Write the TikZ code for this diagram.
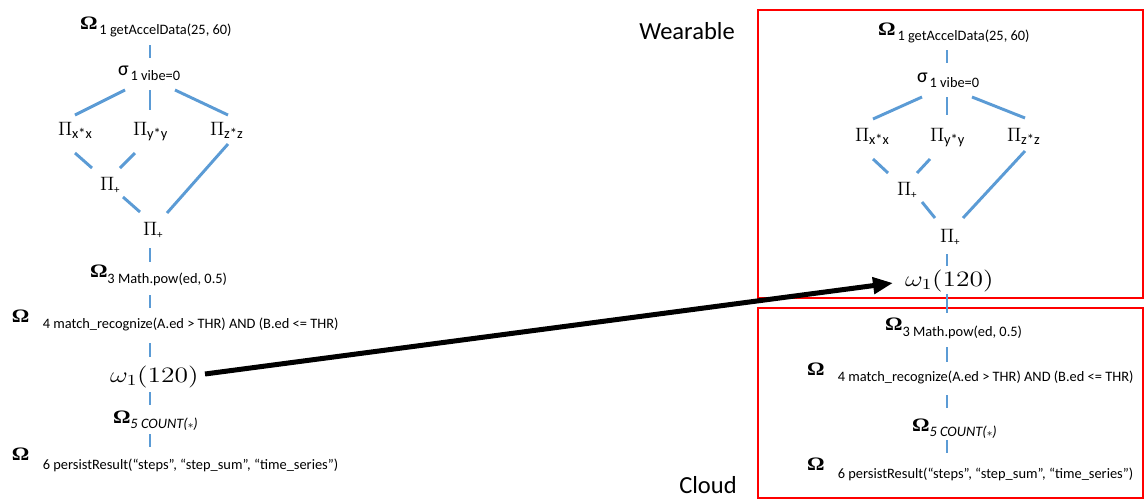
\RequirePackage{fix-cm}
\documentclass[tikz,border=0pt]{standalone}
\usepackage{fontspec}
\setmainfont{Carlito}
\newfontfamily\omegafont{Liberation Serif}[BoldFont={* Bold}]
\usetikzlibrary{calc,arrows.meta}

\definecolor{edgeblue}{HTML}{5B9BD5}
\definecolor{boxred}{HTML}{FF0000}

% text sizes (1 unit of the picture = 0.75pt)
\newcommand\subsz{\fontsize{10.8pt}{12pt}\selectfont}
\newcommand\plussz{\fontsize{8.25pt}{9pt}\selectfont}
% operator labels: gap, drop of the subscript text, subscript text
\newcommand\OmegaOp[3]{\scalebox{1.15}[1]{\omegafont\bfseries\fontsize{14.25pt}{15pt}\selectfont Ω}\kern#1\raisebox{-#2}{\subsz #3}}
\newcommand\PiOp[2]{{\fontsize{14.5pt}{15pt}\selectfont$\Pi$}\raisebox{-#1}{#2}}
\newcommand\SigmaOp{{\fontsize{15pt}{16pt}\selectfont σ}\kern1.5pt\raisebox{-3.75pt}{\subsz 1 vibe=0}}
\newcommand\WindowOp{\scalebox{1.25}[1]{\fontsize{16.5pt}{17pt}\selectfont$\omega_1(120)$}}
\newcommand\StarSym{{\fontsize{8pt}{8pt}\selectfont$\ast$}}

\tikzset{
  op/.style={anchor=base west, inner sep=0pt, outer sep=0pt},
  edge/.style={draw=edgeblue, line width=2.2pt},
  zone/.style={draw=boxred, line width=1.5pt},
  zonelabel/.style={inner sep=0pt, font=\fontsize{18.4pt}{20pt}\selectfont},
  handoff/.style={line width=3.75pt, -{Triangle[length=15pt, width=12pt]}}
}

\begin{document}
\begin{tikzpicture}[x=0.75pt, y=-0.75pt]
\useasboundingbox (0,0) rectangle (1144,500);

% ---------------- full query plan ----------------
\node[op] (o1L) at (80,29)  {\OmegaOp{1.5pt}{3.75pt}{1 getAccelData(25, 60)}};
\node[op] (sgL) at (118,75) {\SigmaOp};
\node[op] (pxL) at (58,135)  {\PiOp{2.25pt}{\subsz x*x}};
\node[op] (pyL) at (133,135) {\PiOp{2.25pt}{\subsz y*y}};
\node[op] (pzL) at (210,135) {\PiOp{2.25pt}{\subsz z*z}};
\node[op] (p1L) at (100,190) {\PiOp{2.25pt}{\plussz +}};
\node[op] (p2L) at (143,235) {\PiOp{2.25pt}{\plussz +}};
\node[op] (o3L) at (90,277)  {\OmegaOp{0pt}{4.5pt}{3 Math.pow(ed, 0.5)}};
\node[op] (o4L) at (12,322)  {\OmegaOp{10pt}{4.5pt}{4 match\_recognize(A.ed > THR) AND (B.ed <= THR)}};
\node[op] (wL)  at (110,382) {\WindowOp};
\node[op] (o5L) at (113,423) {\OmegaOp{0pt}{3.75pt}{\itshape 5 COUNT(\StarSym)}};
\node[op] (o6L) at (12,460)  {\OmegaOp{10pt}{6.75pt}{6 persistResult(“steps”, “step\_sum”, “time\_series”)}};

\draw[edge] ($(o1L.base west)+(70,16)$) -- ($(sgL.base west)+(32,-17)$);
\draw[edge] ($(sgL.base west)+(7,15)$)  -- ($(pxL.base west)+(17,-20)$);
\draw[edge] ($(sgL.base west)+(32,15)$) -- ($(pyL.base west)+(17,-25)$);
\draw[edge] ($(sgL.base west)+(57,15)$) -- ($(pzL.base west)+(18,-20)$);
\draw[edge] ($(pxL.base west)+(17,18)$) -- ($(p1L.base west)+(-8,-22)$);
\draw[edge] ($(pyL.base west)+(2,18)$)  -- ($(p1L.base west)+(20,-22)$);
\draw[edge] ($(pzL.base west)+(18,9)$)  -- ($(p2L.base west)+(24,-22)$);
\draw[edge] ($(p1L.base west)+(23,7)$)  -- ($(p2L.base west)+(-3,-23)$);
\draw[edge] ($(p2L.base west)+(7,13)$)  -- ($(o3L.base west)+(60,-15)$);
\draw[edge] ($(o3L.base west)+(60,18)$) -- ($(o4L.base west)+(138,-14)$);
\draw[edge] ($(o4L.base west)+(138,21)$) -- ($(wL.base west)+(40,-25)$);
\draw[edge] ($(wL.base west)+(40,10)$)  -- ($(o5L.base west)+(37,-18)$);
\draw[edge] ($(o5L.base west)+(37,11)$) -- ($(o6L.base west)+(138,-13)$);

% ---------------- partitioned plan ----------------
\draw[zone] (758,10) rectangle (1143,298);
\draw[zone] (758,308) rectangle (1143,498);
\node[zonelabel] (wear)  at (687,31)  {Wearable};
\node[zonelabel] (cloud) at (708,485) {Cloud};

\node[op] (o1R) at (878,35)  {\OmegaOp{1.5pt}{3.75pt}{1 getAccelData(25, 60)}};
\node[op] (sgR) at (917,82)  {\SigmaOp};
\node[op] (pxR) at (855,141) {\PiOp{2.25pt}{\subsz x*x}};
\node[op] (pyR) at (930,141) {\PiOp{2.25pt}{\subsz y*y}};
\node[op] (pzR) at (1007,141) {\PiOp{2.25pt}{\subsz z*z}};
\node[op] (p1R) at (897,195) {\PiOp{2.25pt}{\plussz +}};
\node[op] (p2R) at (940,242) {\PiOp{2.25pt}{\plussz +}};
\node[op] (wR)  at (905,286) {\WindowOp};
\node[op] (o3R) at (885,330) {\OmegaOp{0pt}{4.5pt}{3 Math.pow(ed, 0.5)}};
\node[op] (o4R) at (807,375) {\OmegaOp{10pt}{4.5pt}{4 match\_recognize(A.ed > THR) AND (B.ed <= THR)}};
\node[op] (o5R) at (912,431) {\OmegaOp{0pt}{3.75pt}{\itshape 5 COUNT(\StarSym)}};
\node[op] (o6R) at (807,470) {\OmegaOp{10pt}{6pt}{6 persistResult(“steps”, “step\_sum”, “time\_series”)}};

\draw[edge] ($(o1R.base west)+(69,15)$) -- ($(sgR.base west)+(30,-19)$);
\draw[edge] ($(sgR.base west)+(5,15)$)  -- ($(pxR.base west)+(18,-22)$);
\draw[edge] ($(sgR.base west)+(30,15)$) -- ($(pyR.base west)+(17,-26)$);
\draw[edge] ($(sgR.base west)+(55,15)$) -- ($(pzR.base west)+(18,-23)$);
\draw[edge] ($(pxR.base west)+(18,18)$) -- ($(p1R.base west)+(-9,-22)$);
\draw[edge] ($(pyR.base west)+(0,18)$)  -- ($(p1R.base west)+(20,-22)$);
\draw[edge] ($(pzR.base west)+(18,10)$) -- ($(p2R.base west)+(23,-24)$);
\draw[edge] ($(p1R.base west)+(25,7)$)  -- ($(p2R.base west)+(-5,-24)$);
\draw[edge] ($(p2R.base west)+(7,12)$)  -- ($(wR.base west)+(42,-20)$);
\draw[edge] ($(wR.base west)+(42,8)$)   -- ($(o3R.base west)+(62,-17)$);
\draw[edge] ($(o3R.base west)+(62,17)$) -- ($(o4R.base west)+(140,-13)$);
\draw[edge] ($(o4R.base west)+(140,20)$) -- ($(o5R.base west)+(35,-23)$);
\draw[edge] ($(o5R.base west)+(35,9)$)  -- ($(o6R.base west)+(140,-17)$);

% window operator pushed to the wearable
\draw[handoff] ($(wL.base west)+(95,-8)$) -- ($(wR.base west)+(-12,-3)$);
\end{tikzpicture}
\end{document}
